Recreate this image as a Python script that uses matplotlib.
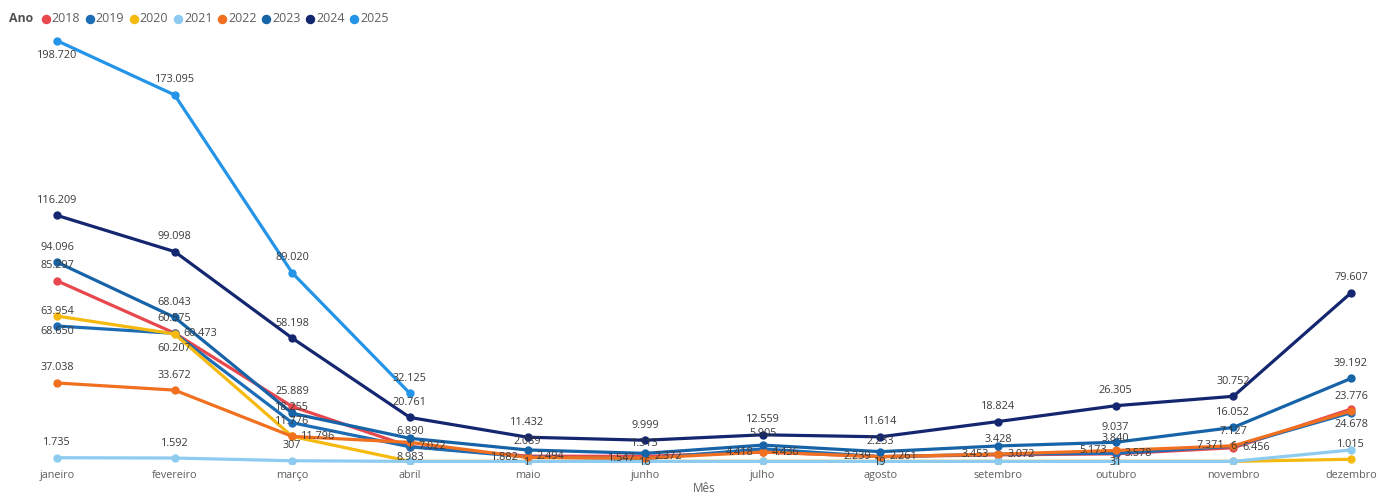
import matplotlib
matplotlib.use("Agg")
import matplotlib.pyplot as plt
from matplotlib.lines import Line2D

plt.rcParams['font.family'] = ['Open Sans', 'DejaVu Sans']

# ==== Dados ====
meses = ["janeiro", "fevereiro", "março", "abril", "maio", "junho",
         "julho", "agosto", "setembro", "outubro", "novembro", "dezembro"]
anos = ["2018", "2019", "2020", "2021", "2022", "2023", "2024", "2025"]

v2018 = [85297, 60575, 25889, 7022, 2494, 2372, 4436, 2261, 3072, 3578, 6456, 24678]
v2019 = [63954, 60473, 18255, 6890, 2089, 1313, 5905, 2233, 3428, 3840, 7127, 23000]
v2020 = [68650, 60207, 11776, 1, 1, 16, 0, 19, 0, 31, 6, 1015]
v2021 = [1735, 1592, 307, 0, 0, 0, 0, 0, 0, 0, 0, 5400]
v2022 = [37038, 33672, 11796, 8983, 1882, 1547, 4418, 2239, 3453, 5173, 7371, 23776]
v2023 = [94096, 68043, 22700, 10900, 5400, 3800, 7700, 4600, 7300, 9037, 16052, 39192]
v2024 = [116209, 99098, 58198, 20761, 11432, 9999, 12559, 11614, 18824, 26305, 30752, 79607]
v2025 = [198720, 173095, 89020, 32125, None, None, None, None, None, None, None, None]

valores = [v2018, v2019, v2020, v2021, v2022, v2023, v2024, v2025]

cores = ["#E8474E", "#1D6CB6", "#F5B90F", "#8DCCF0",
         "#F07020", "#1763A8", "#13266F", "#2394E8"]

# posicao do rotulo: a=acima, b=abaixo, l=esquerda, r=direita, c=centro, -=sem
pos_rotulo = ["aaarrrrrrrrb", "araaaaaaaaa-", "bbaacc-c-caa", "aaa---------",
              "aarbllllllla", "aa-------aaa", "aaaaaaaaaaaa", "baaa--------"]

def fmt(v):
    return f"{v:,}".replace(",", ".")

# ==== Plot ====
fig = plt.figure(figsize=(13.77, 4.97), dpi=100)
ax = fig.add_axes([0, 33 / 497, 1, 439 / 497])

x = list(range(len(meses)))
for k, (ano, vals, cor, pos) in enumerate(zip(anos, valores, cores, pos_rotulo)):
    xs = [i for i, v in zip(x, vals) if v is not None]
    ys = [v for v in vals if v is not None]
    ax.plot(xs, ys, color=cor, lw=2.3, marker='o', ms=5, zorder=2 + k,
            solid_capstyle='round')
    for i, v in zip(xs, ys):
        p = pos[i]
        if p == '-':
            continue
        if p == 'a':
            off, ha = (0, 15), 'center'
        elif p == 'b':
            off, ha = (0, -15), 'center'
        elif p == 'l':
            off, ha = (-9, 0), 'right'
        elif p == 'r':
            off, ha = (9, 0), 'left'
        else:
            off, ha = (0, -1), 'center'
        ax.annotate(fmt(v), (i, v), xytext=off, textcoords='offset pixels',
                    ha=ha, va='center', fontsize=7.8, color='#3A3A3A',
                    zorder=30, annotation_clip=False)

ax.set_xlim(-57 / 117.64, 11 + 26 / 117.64)
ax.set_ylim(-1228, 206140)
ax.set_xticks(x)
ax.set_xticklabels(meses)
ax.tick_params(axis='x', length=0, pad=4.5, labelsize=7.8, labelcolor='#605E5C')
ax.set_yticks([])
for s in ax.spines.values():
    s.set_visible(False)

fig.text(704 / 1377, 1 - 489 / 497, "Mês", ha='center', va='center',
         fontsize=8.4, color='#605E5C')

# ==== Legenda ====
fig.text(9 / 1377, 1 - 19 / 497, "Ano", ha='left', va='center',
         fontsize=8.8, fontweight='bold', color='#505050')
for i, (ano, cor) in enumerate(zip(anos, cores)):
    px = 45.7 + 44.1 * i
    fig.add_artist(Line2D([px / 1377], [1 - 19 / 497], transform=fig.transFigure,
                          marker='o', ms=5.8, color=cor, linestyle=''))
    fig.text((px + 6) / 1377, 1 - 19 / 497, ano, ha='left', va='center',
             fontsize=9, color='#605E5C')

fig.savefig("out.png", dpi=100)
